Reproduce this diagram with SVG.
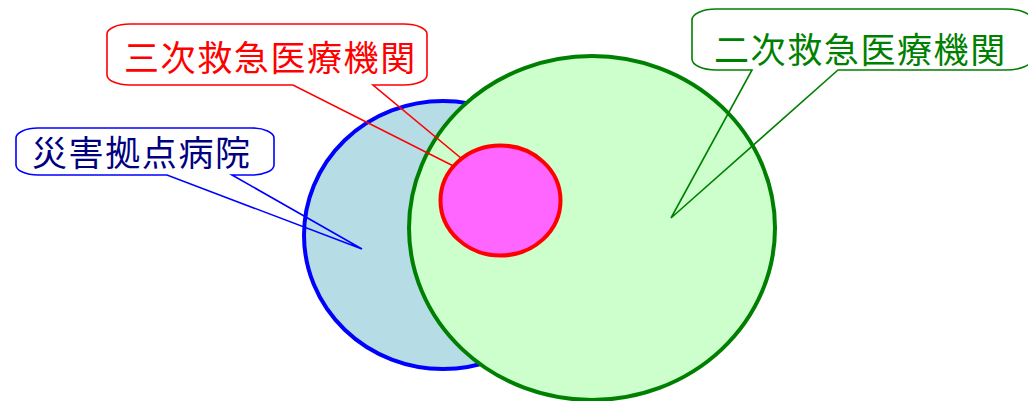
<svg xmlns="http://www.w3.org/2000/svg" width="1028" height="401" viewBox="0 0 1028 401">
<style>
.lbl{font-family:"Noto Sans CJK JP","Noto Sans CJK SC",sans-serif;font-size:35px;letter-spacing:1.6px}
.call{fill:none;stroke-width:1.6;stroke-linejoin:miter}
</style>
<rect width="1028" height="401" fill="#ffffff"/>
<g id="disaster-hospital">
<ellipse cx="443" cy="235" rx="139" ry="134" fill="#b6dce6" stroke="#0000ff" stroke-width="4"/>
</g>
<g id="secondary-emergency">
<ellipse cx="592" cy="228" rx="183" ry="172" fill="#ccffcc" stroke="#008000" stroke-width="4"/>
</g>
<g id="connectors">
<path class="call" stroke="#0000ff" d="M38,128 H252 A22,10 0 0 1 274,138 V165 A22,10 0 0 1 252,175 H232 L362,249 L167,175 H38 A22,10 0 0 1 16,165 V138 A22,10 0 0 1 38,128 Z"/>
<path class="call" stroke="#ff0000" d="M130,24 H404 A23,10 0 0 1 427,34 V75 A23,10 0 0 1 404,85 H373 L497,188 L293,85 H130 A23,10 0 0 1 107,75 V34 A23,10 0 0 1 130,24 Z"/>
<path class="call" stroke="#008000" d="M716,9 H1006 A26,11 0 0 1 1032,20 V59 A26,11 0 0 1 1006,70 H838 L671,218 L752,70 H716 A24,11 0 0 1 692,59 V20 A24,11 0 0 1 716,9 Z"/>
</g>
<g id="tertiary-emergency">
<ellipse cx="500.5" cy="200.5" rx="60" ry="55" fill="#ff66ff" stroke="#ff0000" stroke-width="4"/>
</g>
<g id="label-disaster">
<text class="lbl" x="32" y="166" fill="#000080">災害拠点病院</text>
</g>
<g id="label-tertiary">
<text class="lbl" x="124" y="71" fill="#ff0000">三次救急医療機関</text>
</g>
<g id="label-secondary">
<text class="lbl" x="714" y="63" fill="#008000">二次救急医療機関</text>
</g>
</svg>
